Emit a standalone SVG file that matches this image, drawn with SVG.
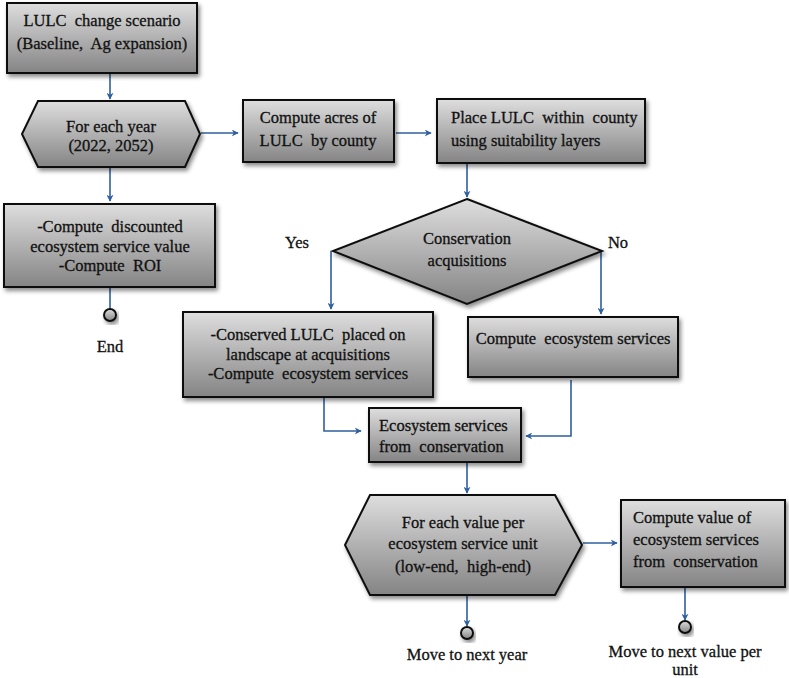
<svg xmlns="http://www.w3.org/2000/svg" width="789" height="678" viewBox="0 0 789 678" xml:space="preserve">
<defs>
<linearGradient id="g" x1="0" y1="0" x2="0" y2="1">
<stop offset="0" stop-color="#dedede"/>
<stop offset="1" stop-color="#848484"/>
</linearGradient>
<filter id="sh" x="-10%" y="-10%" width="130%" height="140%">
<feDropShadow dx="2" dy="3" stdDeviation="2" flood-color="#000" flood-opacity="0.45"/>
</filter>
<marker id="ar" viewBox="0 0 10 10" refX="9" refY="5" markerWidth="7" markerHeight="7" orient="auto" markerUnits="userSpaceOnUse">
<path d="M0,0 L10,5 L0,10 L3,5 z" fill="#2f5f9e"/>
</marker>
</defs>
<style>
.n{fill:url(#g);stroke:#111;stroke-width:2;filter:url(#sh)}
.t{font-family:"Liberation Serif","Times New Roman",serif;font-size:16.5px;fill:#111;stroke:#111;stroke-width:0.3;text-anchor:middle;white-space:pre}
.l{text-anchor:start}
.c{fill:none;stroke:#2f5f9e;stroke-width:1.6}
.a{marker-end:url(#ar)}
</style>
<rect width="789" height="678" fill="#fff"/>
<g id="connectors">
<path class="c a" d="M110,74 V99"/>
<path class="c a" d="M201,133 H238"/>
<path class="c a" d="M396,133 H431"/>
<path class="c a" d="M467,164 V197"/>
<path class="c a" d="M110,168 V201"/>
<path class="c" d="M110,288 V309"/>
<path class="c a" d="M331,251 V309"/>
<path class="c a" d="M601,251 V314"/>
<path class="c a" d="M324,398 V431 H361"/>
<path class="c a" d="M571,380 V436 H526"/>
<path class="c a" d="M467,463 V493"/>
<path class="c a" d="M583,543 H617"/>
<path class="c a" d="M467,596 V626"/>
<path class="c a" d="M685,588 V620"/>
</g>
<g id="lulc">
<rect class="n" x="7" y="3" width="190" height="70"/>
<text class="t" x="102" y="26">LULC  change scenario</text>
<text class="t" x="102" y="49">(Baseline,  Ag expansion)</text>
</g>
<g id="year">
<polygon class="n" points="38,101 185,101 200,134 185,167 38,167 22,134"/>
<text class="t" x="111" y="132">For each year</text>
<text class="t" x="111" y="151">(2022, 2052)</text>
</g>
<g id="acres">
<rect class="n" x="243" y="100" width="151" height="62"/>
<text class="t" x="318" y="123">Compute acres of</text>
<text class="t" x="318" y="146">LULC  by county</text>
</g>
<g id="place">
<rect class="n" x="437" y="99" width="208" height="64"/>
<text class="t l" x="451" y="123">Place LULC  within  county</text>
<text class="t l" x="451" y="146">using suitability layers</text>
</g>
<g id="discounted">
<rect class="n" x="4" y="204" width="211" height="83"/>
<text class="t" x="110" y="232">-Compute  discounted</text>
<text class="t" x="110" y="252">ecosystem service value</text>
<text class="t" x="110" y="271">-Compute  ROI</text>
</g>
<g id="end">
<circle class="n" cx="110" cy="315" r="6"/>
<text class="t" x="110" y="352">End</text>
</g>
<g id="decision">
<polygon class="n" points="467,199 602,251 467,304 333,251"/>
<text class="t" x="467" y="244">Conservation</text>
<text class="t" x="467" y="266">acquisitions</text>
</g>
<text class="t" x="297" y="248">Yes</text>
<text class="t" x="618" y="248">No</text>
<g id="conserved">
<rect class="n" x="183" y="312" width="250" height="85"/>
<text class="t" x="308" y="340">-Conserved LULC  placed on</text>
<text class="t" x="308" y="360">landscape at acquisitions</text>
<text class="t" x="308" y="379">-Compute  ecosystem services</text>
</g>
<g id="compute-es">
<rect class="n" x="468" y="317" width="210" height="60"/>
<text class="t" x="573" y="344">Compute  ecosystem services</text>
</g>
<g id="es-conservation">
<rect class="n" x="369" y="408" width="152" height="54"/>
<text class="t l" x="379" y="431">Ecosystem services</text>
<text class="t l" x="379" y="452">from  conservation</text>
</g>
<g id="value-loop">
<polygon class="n" points="370,495 555,495 582,545 555,595 370,595 345,545"/>
<text class="t" x="463" y="528">For each value per</text>
<text class="t" x="463" y="549">ecosystem service unit</text>
<text class="t" x="463" y="572">(low-end,  high-end)</text>
</g>
<g id="compute-value">
<rect class="n" x="621" y="500" width="164" height="87"/>
<text class="t l" x="633" y="523">Compute value of</text>
<text class="t l" x="633" y="545">ecosystem services</text>
<text class="t l" x="633" y="567">from  conservation</text>
</g>
<g id="next-year">
<circle class="n" cx="467" cy="633" r="6"/>
<text class="t" x="467" y="660">Move to next year</text>
</g>
<g id="next-value">
<circle class="n" cx="685" cy="627" r="6"/>
<text class="t" x="685" y="657">Move to next value per</text>
<text class="t" x="685" y="675">unit</text>
</g>
</svg>
